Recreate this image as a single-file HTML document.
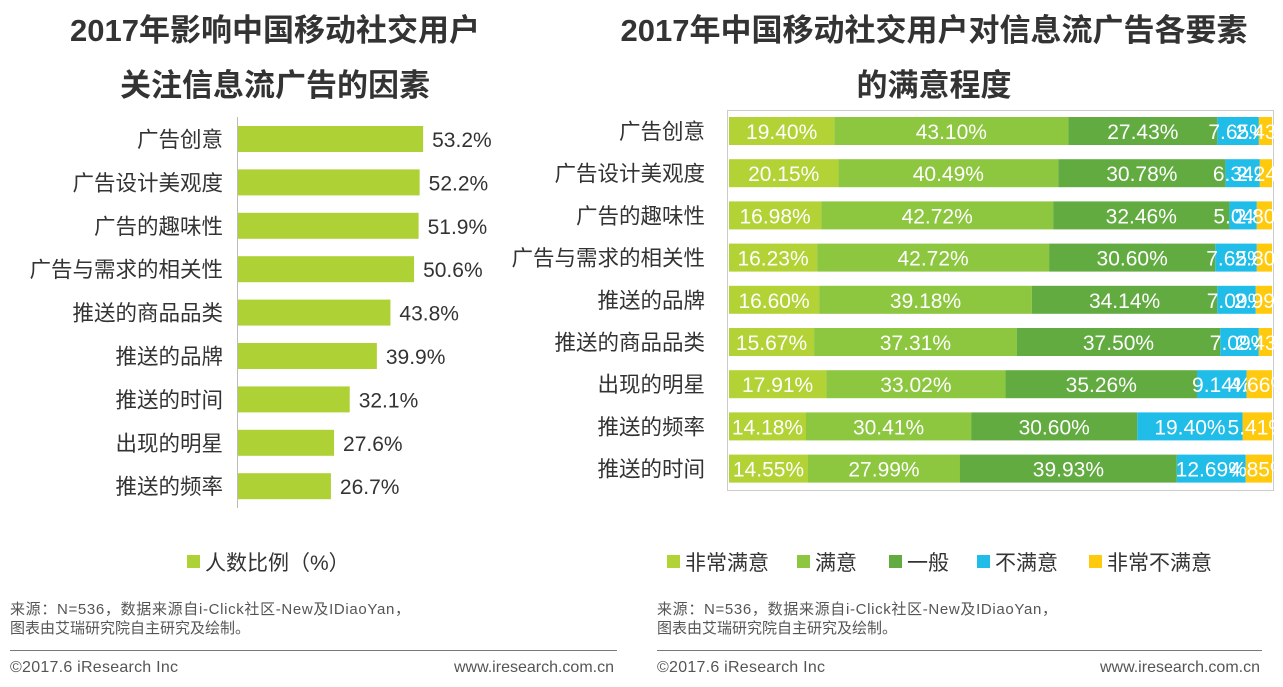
<!DOCTYPE html>
<html><head><meta charset="utf-8"><style>
body{margin:0;background:#fff;width:1283px;height:682px;overflow:hidden;font-family:"Liberation Sans","Noto Sans CJK SC",sans-serif}
svg text{font-family:"Liberation Sans","Noto Sans CJK SC",sans-serif}
</style></head><body>
<svg id="c" width="1283" height="682">
<g font-size="31" font-weight="bold" fill="#333" text-anchor="middle">
<text x="275" y="41">2017年影响中国移动社交用户</text>
<text x="275" y="96">关注信息流广告的因素</text></g>
<g font-size="31" font-weight="bold" fill="#333" text-anchor="middle">
<text x="934" y="41">2017年中国移动社交用户对信息流广告各要素</text>
<text x="934" y="96">的满意程度</text></g>
<line x1="237.5" y1="117" x2="237.5" y2="508" stroke="#bbb"/>
<rect x="727.5" y="110.5" width="546" height="380" fill="none" stroke="#ccc"/>
<g id="L"></g><g id="R"></g>
<g><rect x="187" y="555" width="13" height="13" fill="#aed136"/><text x="205" y="570" font-size="21" fill="#333">人数比例（%）</text></g>
<g id="RL"></g>
<g font-size="15" fill="#555">
<text x="10" y="614" textLength="400">来源：N=536，数据来源自i-Click社区-New及IDiaoYan，</text>
<text x="10" y="633">图表由艾瑞研究院自主研究及绘制。</text>
<line x1="10" y1="650.5" x2="617" y2="650.5" stroke="#777"/>
<text x="10" y="672" font-size="16" textLength="168">©2017.6 iResearch Inc</text>
<text x="614" y="672" font-size="16" text-anchor="end">www.iresearch.com.cn</text>
<text x="657" y="614" textLength="400">来源：N=536，数据来源自i-Click社区-New及IDiaoYan，</text>
<text x="657" y="633">图表由艾瑞研究院自主研究及绘制。</text>
<line x1="657" y1="650.5" x2="1262" y2="650.5" stroke="#777"/>
<text x="657" y="672" font-size="16" textLength="168">©2017.6 iResearch Inc</text>
<text x="1260" y="672" font-size="16" text-anchor="end">www.iresearch.com.cn</text>
</g>
</svg>
<script>
const leftCats=["广告创意","广告设计美观度","广告的趣味性","广告与需求的相关性","推送的商品品类","推送的品牌","推送的时间","出现的明星","推送的频率"];
const leftVals=[53.2,52.2,51.9,50.6,43.8,39.9,32.1,27.6,26.7];
const rightCats=["广告创意","广告设计美观度","广告的趣味性","广告与需求的相关性","推送的品牌","推送的商品品类","出现的明星","推送的频率","推送的时间"];
const seriesNames=["非常满意","满意","一般","不满意","非常不满意"];
const s1=[19.40,20.15,16.98,16.23,16.60,15.67,17.91,14.18,14.55];
const s2=[43.10,40.49,42.72,42.72,39.18,37.31,33.02,30.41,27.99];
const s3=[27.43,30.78,32.46,30.60,34.14,37.50,35.26,30.60,39.93];
const s4=[7.65,6.34,5.04,7.65,7.09,7.09,9.14,19.40,12.69];
const s5=[2.43,2.24,2.80,2.80,2.99,2.43,4.66,5.41,4.85];
const colors=["#b2d235","#8dc63f","#62ab41","#1fbde8","#ffc90e"];
const NS="http://www.w3.org/2000/svg";
function mk(p,t,a,txt){const e=document.createElementNS(NS,t);for(const k in a)e.setAttribute(k,a[k]);if(txt!=null)e.textContent=txt;p.appendChild(e);return e;}
const L=document.getElementById('L');
const lx=v=>238+v*3.48, ly=i=>139+i*43.4;
leftCats.forEach((c,i)=>{
 const t=mk(L,'text',{x:223,y:ly(i)+8,'font-size':21.5,fill:'#333','text-anchor':'end'},c);
 
 
 const r=mk(L,'rect',{x:238,y:ly(i)-13,width:lx(leftVals[i])-238,height:26,fill:'#aed136'});
 
 
 const v=mk(L,'text',{x:lx(leftVals[i])+9,y:ly(i)+8,'font-size':21,fill:'#333'},leftVals[i].toFixed(1)+'%');
 
 
});
const R=document.getElementById('R');
const rx=v=>729+v*5.43, ry=i=>131+i*42.2;
const series=[s1,s2,s3,s4,s5];
rightCats.forEach((c,i)=>{
 const t=mk(R,'text',{x:705,y:ry(i)+8,'font-size':21.5,fill:'#333','text-anchor':'end'},c);
 
 
 let acc=0;
 series.forEach((s,k)=>{
  const x0=rx(acc),x1=rx(acc+s[i]);acc+=s[i];
  const r=mk(R,'rect',{x:x0,y:ry(i)-14,width:Math.min(x1,1273)-x0,height:28,fill:colors[k]});
  
  
  const v=mk(R,'text',{x:(x0+x1)/2,y:ry(i)+8,'font-size':21,fill:'#fff','text-anchor':'middle'},s[i].toFixed(2)+'%');
  
  
 });
});
const RL=document.getElementById('RL');
const lxs=[667,797,889,977,1089];
seriesNames.forEach((n,k)=>{
 const r=mk(RL,'rect',{x:lxs[k],y:555,width:13,height:13,fill:colors[k]});
 
 
 const t=mk(RL,'text',{x:lxs[k]+18,y:570,'font-size':21,fill:'#333'},n);
 
 
});
</script>
</body></html>
